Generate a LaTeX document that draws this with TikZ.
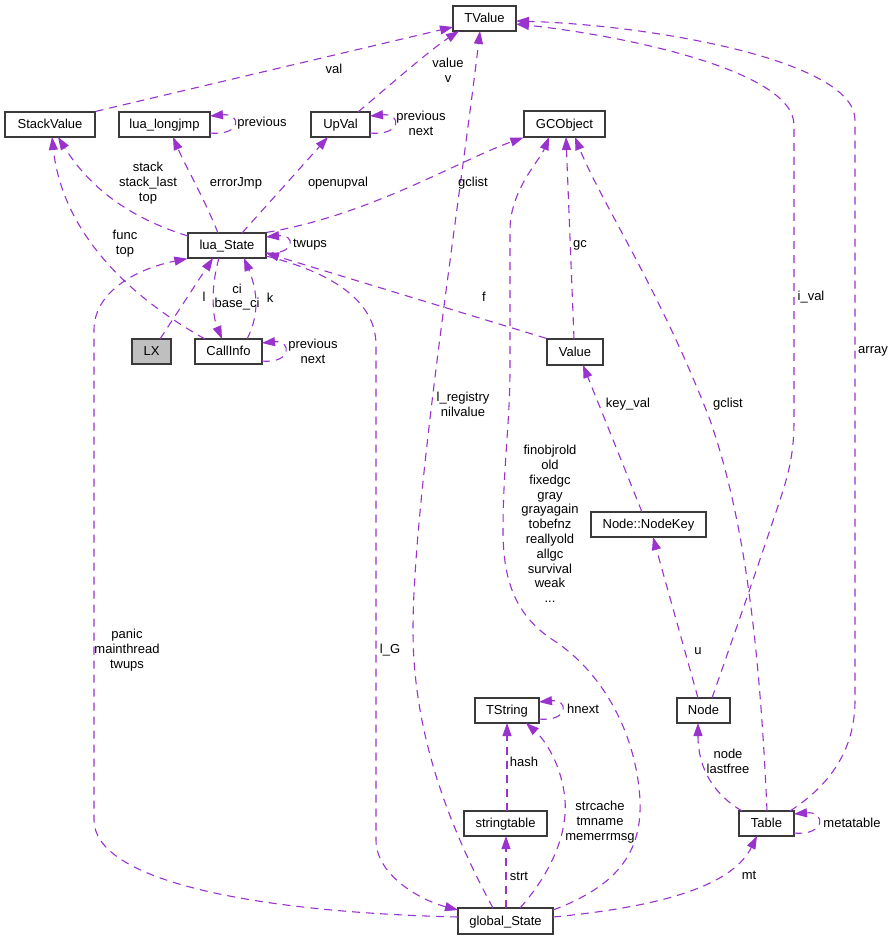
\documentclass[tikz,border=0pt]{standalone}
\usepackage{fontspec}
\setmainfont{Liberation Sans}
\usetikzlibrary{arrows.meta,calc}
\definecolor{edgec}{HTML}{9A32CD}
\definecolor{boxc}{HTML}{3A3A3A}
\definecolor{lxfill}{HTML}{BFBFBF}
\newcommand\dxfont{\fontsize{13}{14.8}\selectfont}
\begin{document}
\begin{tikzpicture}[x=1pt,y=-1pt,
  box/.style={draw=boxc, line width=1.2pt, minimum height=25pt, inner sep=0pt, text height=10.4pt, text depth=1.6pt, font=\dxfont},
  lab/.style={font=\dxfont, align=center, inner sep=0pt},
  edge/.style={draw=edgec, line width=1.1pt, dash pattern=on 8pt off 6pt, -{Triangle[length=13pt,width=9pt]}}]
\useasboundingbox (0,0) rectangle (894,940);
% nodes
\node[box, minimum width=63pt] (TValue) at (484.5,18.5) {TValue};
\node[box, minimum width=90pt] (StackValue) at (50,124.5) {StackValue};
\node[box, minimum width=91pt] (longjmp) at (164.5,124.5) {lua\_longjmp};
\node[box, minimum width=59pt] (UpVal) at (340.5,124.5) {UpVal};
\node[box, minimum width=81pt, minimum height=26pt] (GCObject) at (564.5,124) {GCObject};
\node[box, minimum width=78pt] (luaState) at (227,245.5) {lua\_State};
\node[box, minimum width=39pt, fill=lxfill] (LX) at (151.5,351.5) {LX};
\node[box, minimum width=67pt] (CallInfo) at (228.5,351.5) {CallInfo};
\node[box, minimum width=56pt, minimum height=26pt] (Value) at (575,352) {Value};
\node[box, minimum width=115pt] (NodeKey) at (648.5,524.5) {Node::NodeKey};
\node[box, minimum width=64pt] (TString) at (507,710.5) {TString};
\node[box, minimum width=53pt] (Node) at (703.5,710.5) {Node};
\node[box, minimum width=83pt] (stringtable) at (505.5,823.5) {stringtable};
\node[box, minimum width=55pt] (Table) at (766.5,823.5) {Table};
\node[box, minimum width=95pt, minimum height=26pt] (globalState) at (505.5,921) {global\_State};

% edges
\draw[edge] (StackValue.north east) -- ($(TValue)+(-31.5,8.5)$);
\draw[edge] ($(UpVal)+(17.5,-12.5)$) .. controls (390,85) and (430,50) .. ($(TValue)+(-25.5,12.5)$);
\draw[edge] ($(UpVal)+(29.5,8.5)$) .. controls +(32,3) and +(32,-3) .. ($(UpVal)+(29.5,-8.5)$);
\draw[edge] ($(longjmp)+(45.5,8.5)$) .. controls +(32,3) and +(32,-3) .. ($(longjmp)+(45.5,-8.5)$);
\draw[edge] ($(luaState)+(-39,-9.5)$) .. controls (120,215) and (85,180) .. ($(StackValue)+(8,12.5)$);
\draw[edge] ($(luaState)+(-9,-12.5)$) .. controls (205,200) and (185,165) .. ($(longjmp)+(8.5,12.5)$);
\draw[edge] ($(luaState)+(15,-12.5)$) -- ($(UpVal)+(-12.5,12.5)$);
\draw[edge] (luaState.north east) .. controls (370,215) and (460,160) .. (GCObject.south west);
\draw[edge] ($(luaState)+(39,7.5)$) .. controls +(30,2) and +(30,-3) .. ($(luaState)+(39,-8.5)$);
\draw[edge] ($(CallInfo)+(-23.5,-12.5)$) .. controls (100,280) and (60,210) .. ($(StackValue)+(2,12.5)$);
\draw[edge] ($(LX)+(8.5,-12.5)$) -- ($(luaState)+(-14,12.5)$);
\draw[edge] ($(luaState)+(-8,12.5)$) .. controls (211,285) and (212,315) .. ($(CallInfo)+(-6.5,-12.5)$);
\draw[edge] ($(CallInfo)+(18.5,-12.5)$) .. controls (262,310) and (255,285) .. ($(luaState)+(17,12.5)$);
\draw[edge] ($(CallInfo)+(33.5,9.5)$) .. controls +(30,3) and +(30,-3) .. ($(CallInfo)+(33.5,-8.5)$);
\draw[edge] (Value.north west) -- ($(luaState)+(39,7.5)$);
\draw[edge] ($(globalState)+(-47.5,-4)$) .. controls (250,912) and (94,880) .. (94,820) -- (94,330) .. controls (94,290) and (140,268) .. (luaState.south west);
\draw[edge] ($(luaState)+(39,10.5)$) .. controls (330,272) and (376,300) .. (376,345) -- (376,840) .. controls (376,875) and (420,900) .. ($(globalState)+(-47.5,-11)$);
\draw[edge] ($(globalState)+(-12.5,-13)$) .. controls (440,810) and (413,720) .. (413,630) .. controls (413,500) and (460,200) .. ($(TValue)+(-4.5,12.5)$);
\draw[edge] ($(globalState)+(47.5,-11)$) .. controls (620,885) and (642,850) .. (640,800) .. controls (636,730) and (600,670) .. (553,640) .. controls (515,615) and (503,580) .. (503,530) .. controls (503,470) and (510,420) .. (510,370) -- (510,230) .. controls (510,190) and (540,160) .. ($(GCObject)+(-15.5,13)$);
\draw[edge] ($(Value)+(-1,-13)$) -- ($(GCObject)+(1.5,13)$);
\draw[edge] ($(Table)+(0.5,-12.5)$) .. controls (760,650) and (745,520) .. (710,420) .. controls (660,290) and (600,200) .. ($(GCObject)+(10.5,13)$);
\draw[edge] ($(Node)+(8.5,-12.5)$) .. controls (740,618) and (760,560) .. (780,500) .. controls (790,470) and (794,450) .. (794,420) -- (794,125) .. controls (794,70) and (620,35) .. ($(TValue)+(31.5,5.5)$);
\draw[edge] ($(Table)+(23.5,-12.5)$) .. controls (830,785) and (855,750) .. (855,700) -- (855,120) .. controls (855,60) and (650,25) .. ($(TValue)+(31.5,2.5)$);
\draw[edge] ($(NodeKey)+(-6.5,-12.5)$) -- ($(Value)+(8,13)$);
\draw[edge] ($(Node)+(-5.5,-12.5)$) -- ($(NodeKey)+(4.5,12.5)$);
\draw[edge] ($(Table)+(-24.5,-12.5)$) .. controls (715,795) and (698,770) .. ($(Node)+(-5.5,12.5)$);
\draw[edge] ($(Table)+(27.5,9.5)$) .. controls +(32,3) and +(32,-3) .. ($(Table)+(27.5,-9.5)$);
\draw[edge] ($(stringtable)+(1.5,-12.5)$) -- ($(TString)+(0,12.5)$);
\draw[edge] ($(globalState)+(14.5,-13)$) .. controls (545,880) and (568,840) .. (565,800) .. controls (562,765) and (545,740) .. ($(TString)+(19,12.5)$);
\draw[edge] ($(TString)+(32,8.5)$) .. controls +(30,3) and +(30,-3) .. ($(TString)+(32,-8.5)$);
\draw[edge] ($(globalState)+(0.5,-13)$) -- ($(stringtable)+(0.5,12.5)$);
\draw[edge] ($(globalState)+(47.5,-4)$) .. controls (680,905) and (735,880) .. ($(Table)+(-9.5,12.5)$);

% labels
\node[lab] (l1) at (334,69) {val};
\node[lab] (l2) at (448,70) {value\\v};
\node[lab] (l3) at (421,123) {previous\\next};
\node[lab] (l4) at (262,123) {previous};
\node[lab] (l5) at (148,183) {stack\\stack\_last\\top};
\node[lab] (l6) at (236,183) {errorJmp};
\node[lab] (l7) at (338,183) {openupval};
\node[lab] (l8) at (473,183) {gclist};
\node[lab] (l9) at (310,245) {twups};
\node[lab] (l10) at (125,244) {func\\top};
\node[lab] (l11) at (204,297) {l};
\node[lab] (l12) at (237,297) {ci\\base\_ci};
\node[lab] (l13) at (270,298) {k};
\node[lab] (l14) at (313,351) {previous\\next};
\node[lab] (l15) at (484,297) {f};
\node[lab] (l16) at (127,650) {panic\\mainthread\\twups};
\node[lab] (l17) at (390,650) {l\_G};
\node[lab] (l18) at (463,404) {l\_registry\\nilvalue};
\node[lab] (l19) at (550,524) {finobjrold\\old\\fixedgc\\gray\\grayagain\\tobefnz\\reallyold\\allgc\\survival\\weak\\...};
\node[lab] (l20) at (580,245) {gc};
\node[lab] (l21) at (728,404) {gclist};
\node[lab] (l22) at (811,297) {i\_val};
\node[lab] (l23) at (873,351) {array};
\node[lab] (l24) at (628,404) {key\_val};
\node[lab] (l25) at (698,651) {u};
\node[lab] (l26) at (728,761) {node\\lastfree};
\node[lab] (l27) at (852,823) {metatable};
\node[lab] (l28) at (524,762) {hash};
\node[lab] (l29) at (600,822) {strcache\\tmname\\memerrmsg};
\node[lab] (l30) at (583,709) {hnext};
\node[lab] (l31) at (519,876) {strt};
\node[lab] (l32) at (749,875) {mt};
\end{tikzpicture}
\end{document}
